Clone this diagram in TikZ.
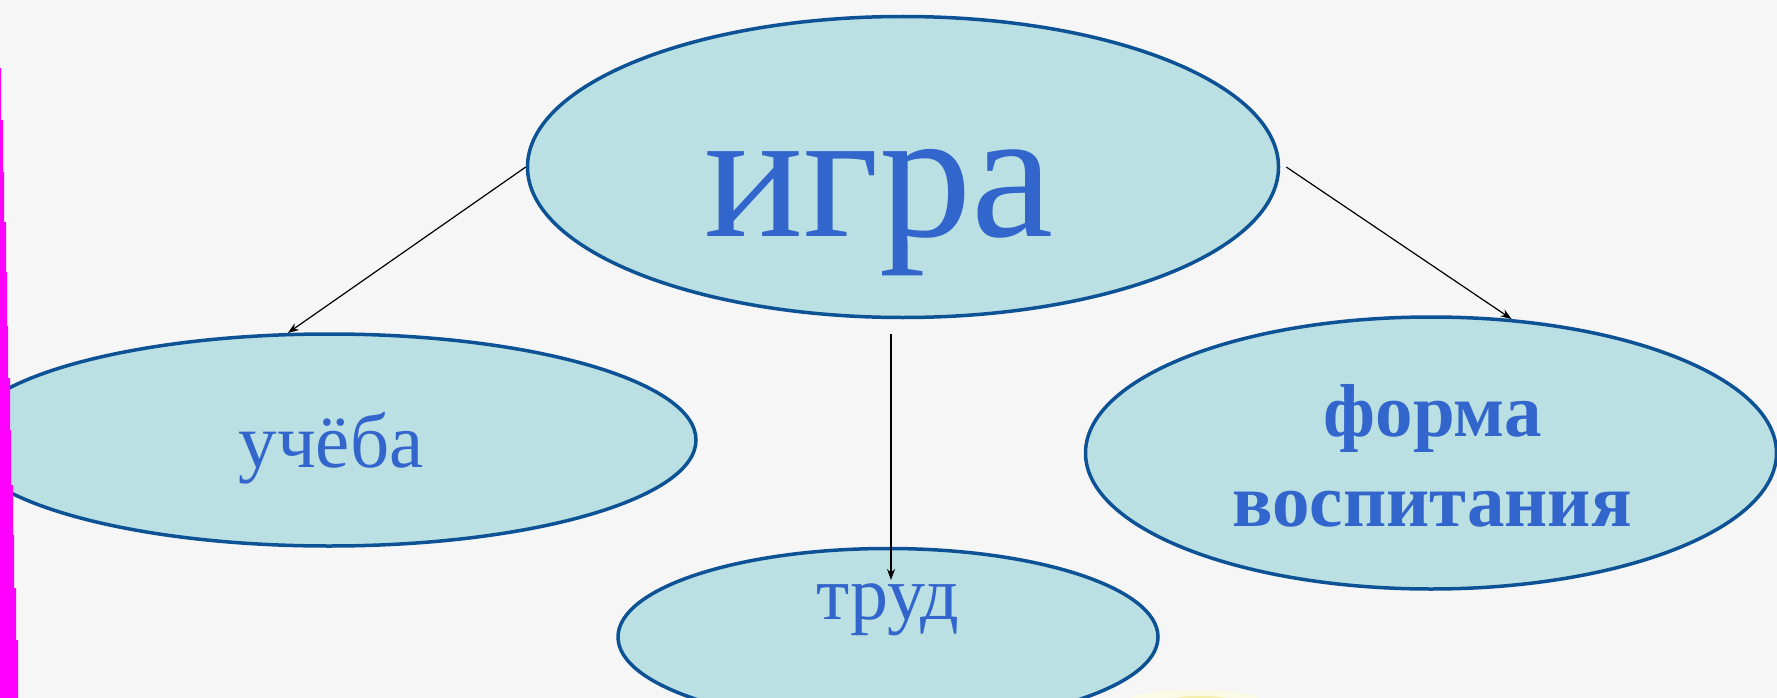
\documentclass[tikz,border=0pt]{standalone}
\usepackage{fontspec}
\setmainfont{Liberation Serif}
\usetikzlibrary{shapes.geometric,arrows.meta}
\definecolor{bgc}{HTML}{F6F6F6}
\definecolor{fillc}{HTML}{BBE0E3}
\definecolor{edgec}{HTML}{0E5296}
\definecolor{textc}{HTML}{3366CC}
\definecolor{magc}{HTML}{FF00FF}
\tikzset{
  oval/.style={ellipse, draw=edgec, line width=3.5pt, fill=fillc, inner sep=0pt},
  lbl/.style={anchor=base, inner sep=0pt, text=textc},
  conn/.style={draw=black, line width=1.2pt, -{Stealth[length=11pt,width=8pt]}}
}
\begin{document}
\begin{tikzpicture}[x=1pt,y=-1pt]
\fill[bgc] (0,0) rectangle (1777,698);
\useasboundingbox (0,0) rectangle (1777,698);
% yellow glow
\fill[yellow!15!white, opacity=0.6] (1195,700) ellipse (65 and 10);
\fill[yellow!70!olive!40!white, opacity=0.7] (1200,701) ellipse (32 and 5);
% ellipses
\node[oval, minimum width=734pt, minimum height=212pt] (ucheba) at (329,440) {};
\node[oval, minimum width=540pt, minimum height=177pt] (trud) at (888,637) {};
\node[oval, minimum width=691pt, minimum height=272pt] (forma) at (1431,453) {};
\node[oval, minimum width=751pt, minimum height=301pt] (igra) at (903,167) {};
% texts
\node[lbl, font=\fontsize{185}{190}\selectfont] (tigra) at (879,236) {игра};
\node[lbl, font=\fontsize{77}{80}\selectfont] (tucheba) at (331,467) {учёба};
\node[lbl, font=\fontsize{76}{80}\selectfont] (ttrud) at (888,619) {труд};
\node[lbl, font=\fontsize{75}{80}\selectfont\bfseries] (tforma1) at (1433,436) {форма};
\node[lbl, font=\fontsize{75}{80}\selectfont\bfseries] (tforma2) at (1432,526) {воспитания};
% connectors
\coordinate (mstart) at (891,334);
\coordinate (mend) at (891,580);
\draw[conn] (igra.west) -- (ucheba.111);
\draw[conn] ([xshift=6pt]igra.east) -- (forma.59);
\draw[conn] (mstart) -- (mend);
% magenta stepped bar
\fill[magc] (0,68) -- (1,68) -- (1,120) -- (3,120) -- (3,172) -- (4,172) -- (4,222) -- (6,222) -- (6,272) -- (7,272) -- (7,326) -- (8,326) -- (8,378) -- (10,378) -- (10,430) -- (11,430) -- (11,485) -- (13,485) -- (13,535) -- (14,535) -- (14,588) -- (16,588) -- (16,640) -- (18,640) -- (18,698) -- (0,698) -- cycle;
\end{tikzpicture}
\end{document}
